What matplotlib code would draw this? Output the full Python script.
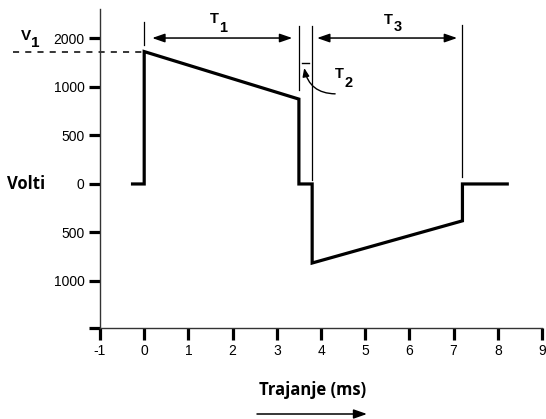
import matplotlib
matplotlib.use("Agg")
import matplotlib.pyplot as plt
import numpy as np

plt.rcParams['font.family'] = ['Liberation Sans', 'DejaVu Sans']
plt.rcParams['axes.unicode_minus'] = False

# waveform (time in ms, voltage in V)
t_ms = [-0.3, 0.0, 0.0, 3.5, 3.5, 3.8, 3.8, 7.2, 7.2, 8.25]
volts = [0, 0, 1730, 875, 0, 0, -815, -380, 0, 0]
v1 = 1730

# phase boundaries used for the T1/T2/T3 markers
t_start, t1_end, t2_end, t3_end = 0.0, 3.5, 3.8, 7.2

x_ticks = list(range(-1, 10))
x_labels = [str(v) for v in x_ticks]
y_ticks = [2000, 1000, 500, 0, -500, -1000]
y_labels = ["2000", "1000", "500", "0", "500", "1000"]

W, H = 546, 419


def fwd(y):
    y = np.asarray(y, dtype=float)
    return np.where(y > 1000, 1000 + (y - 1000) / 2, y)


def inv(p):
    p = np.asarray(p, dtype=float)
    return np.where(p > 1000, 1000 + (p - 1000) * 2, p)


fig = plt.figure(figsize=(W / 100, H / 100), dpi=100)
ax = fig.add_axes([100 / W, (H - 328) / H, 442 / W, 319 / H])

ax.set_yscale('function', functions=(fwd, inv))
ax.set_xlim(-1, 9)
ax.set_ylim(-1485, 2608)

ax.plot(t_ms, volts, color='black', lw=2.3, solid_joinstyle='miter', solid_capstyle='butt')

ax.set_xticks(x_ticks)
ax.set_xticklabels(x_labels)
ax.set_yticks(y_ticks + [-1485])
ax.set_yticklabels(y_labels + [""])
ax.tick_params(axis='x', direction='out', length=8.5, width=2.3, pad=3, labelsize=10)
ax.tick_params(axis='y', direction='out', length=8, width=2.3, pad=3, labelsize=10)

for side in ('top', 'right'):
    ax.spines[side].set_visible(False)
for side in ('left', 'bottom'):
    ax.spines[side].set_color('#333333')
    ax.spines[side].set_linewidth(1.0)

# V1 dashed reference
ax.plot([-2.96, t_start], [v1, v1], color='black', lw=1.1, ls=(0, (4, 4)), clip_on=False)

# vertical markers and duration arrows (x in data, y in axes fraction)
tr = ax.get_xaxis_transform()
markers = [(t_start, 0.959, 0.887), (t1_end, 0.947, 0.746),
           (t2_end, 0.947, 0.464), (t3_end, 0.950, 0.473)]
for x, y0, y1 in markers:
    ax.plot([x, x], [y0, y1], color='black', lw=0.9, transform=tr, clip_on=False)

arrow = dict(arrowstyle='<|-|>,head_length=0.75,head_width=0.26', color='black',
             lw=1.1, shrinkA=0, shrinkB=0, mutation_scale=10)
ax.annotate('', xy=(t1_end - 0.15, 0.909), xytext=(t_start + 0.18, 0.909),
            xycoords=tr, textcoords=tr, arrowprops=arrow)
ax.annotate('', xy=(t3_end - 0.12, 0.909), xytext=(t2_end + 0.11, 0.909),
            xycoords=tr, textcoords=tr, arrowprops=arrow)

# T2 small mark and curved pointer
ax.plot([3.57, 3.73], [0.831, 0.831], color='black', lw=1.0, transform=tr)
ax.annotate('', xy=(3.62, 0.815), xytext=(4.32, 0.734), xycoords=tr, textcoords=tr,
            arrowprops=dict(arrowstyle='-|>,head_length=0.5,head_width=0.2', color='black',
                            lw=1.0, shrinkA=0, shrinkB=0, mutation_scale=10,
                            connectionstyle='arc3,rad=-0.4'))


def sub_label(px, py_main, py_sub, main, sub, size=10.5, sub_size=10.5):
    fig.text(px / W, 1 - py_main / H, main, ha='right', va='baseline',
             fontsize=size, fontweight='bold')
    fig.text((px + 0.5) / W, 1 - py_sub / H, sub, ha='left', va='baseline',
             fontsize=sub_size, fontweight='bold')


sub_label(219, 23, 32, 'T', '1')
sub_label(393, 24, 31, 'T', '3')
sub_label(344, 78, 87, 'T', '2')
sub_label(31, 40, 47, 'V', '1', size=11, sub_size=11)

fig.text(26 / W, 1 - 184 / H, 'Volti', ha='center', va='center',
         fontsize=12, fontweight='bold', family=['Open Sans', 'DejaVu Sans'])
fig.text(313 / W, 1 - 390 / H, 'Trajanje (ms)', ha='center', va='center',
         fontsize=12, fontweight='bold', family=['Open Sans', 'DejaVu Sans'])
fig.add_artist(matplotlib.patches.FancyArrowPatch(
    (257 / W, 5 / H), (367 / W, 5 / H), transform=fig.transFigure,
    arrowstyle='-|>,head_length=0.8,head_width=0.28', mutation_scale=10,
    color='black', lw=1.1, shrinkA=0, shrinkB=0))

fig.savefig('out.png', dpi=100)
